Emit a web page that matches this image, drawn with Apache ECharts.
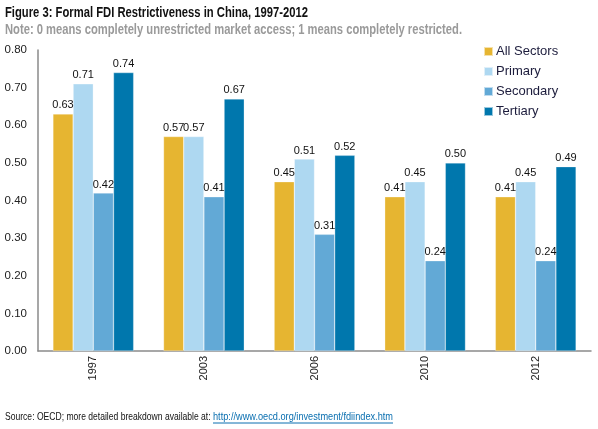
<!DOCTYPE html>
<html><head><meta charset="utf-8">
<script src="https://cdn.jsdelivr.net/npm/echarts@6/dist/echarts.min.js"></script>
<style>html,body{margin:0;padding:0;background:#fff}#c{width:598px;height:429px}</style>
</head><body><div id="c"></div>
<script>
const categories = ['1997', '2003', '2006', '2010', '2012'];
const allSectors = [0.63, 0.57, 0.45, 0.41, 0.41];
const primary = [0.71, 0.57, 0.51, 0.45, 0.45];
const secondary = [0.42, 0.41, 0.31, 0.24, 0.24];
const tertiary = [0.74, 0.67, 0.52, 0.50, 0.49];
const seriesNames = ['All Sectors', 'Primary', 'Secondary', 'Tertiary'];
const colors = ['#E6B531', '#AED8F1', '#62A9D6', '#0077AD'];

const titleText = 'Figure 3: Formal FDI Restrictiveness in China, 1997-2012';
const noteText = 'Note: 0 means completely unrestricted market access; 1 means completely restricted.';
const sourceText = 'Source: OECD; more detailed breakdown available at: ';
const linkText = 'http://www.oecd.org/investment/fdiindex.htm';

const ctx = document.createElement('canvas').getContext('2d');
function condensed(text, font, x, y, targetW, fill) {
  ctx.font = font;
  const w = ctx.measureText(text).width;
  const s = targetW / w;
  return { type: 'text', x: x, y: y, scaleX: s, originX: 0, originY: 0,
    style: { text: text, font: font, fill: fill, textVerticalAlign: 'middle' } };
}
const F = '"Liberation Sans", Arial, sans-serif';

const chart = echarts.init(document.getElementById('c'));
const data = [allSectors, primary, secondary, tertiary];
chart.setOption({
  animation: false,
  backgroundColor: '#fff',
  legend: {
    orient: 'vertical', left: 478, top: 40, itemWidth: 9, itemHeight: 9, itemGap: 7,
    icon: 'rect', data: seriesNames,
    textStyle: { fontFamily: F, fontSize: 13, color: '#1c1c3c', padding: [0, 0, 0, -2] }
  },
  grid: { left: 38, right: 7, top: 50, bottom: 78 },
  xAxis: {
    type: 'category', data: categories,
    axisLine: { lineStyle: { color: '#8a8a8a', width: 1.5 } },
    axisTick: { show: false },
    axisLabel: { rotate: 90, fontFamily: F, fontSize: 11, color: '#222', margin: 5 }
  },
  yAxis: {
    type: 'value', min: 0, max: 0.8, interval: 0.1,
    splitLine: { show: false },
    axisLine: { show: true, lineStyle: { color: '#8a8a8a', width: 1.5 } },
    axisTick: { show: false },
    axisLabel: { formatter: v => v.toFixed(2), fontFamily: F, fontSize: 11.5, color: '#222', margin: 11 }
  },
  series: seriesNames.map((n, i) => ({
    name: n, type: 'bar', data: data[i],
    barGap: '0%', barCategoryGap: '27%',
    itemStyle: { color: colors[i], borderColor: 'rgba(255,255,255,0.6)', borderWidth: 0.5 },
    label: { show: true, position: 'top', distance: 3, formatter: p => p.value.toFixed(2),
      fontFamily: F, fontSize: 11, color: '#111' }
  })),
  graphic: [
    condensed(titleText, 'bold 15px ' + F, 5, 13, 303, '#111'),
    condensed(noteText, 'bold 14px ' + F, 5, 30, 457, '#9a9a9a'),
    condensed(sourceText, '11px ' + F, 5, 417, 208, '#111'),
    condensed(linkText, '11px ' + F, 213, 417, 180, '#0a6fb0'),
    { type: 'line', shape: { x1: 213, y1: 423, x2: 393, y2: 423 }, style: { stroke: '#0a6fb0', lineWidth: 1 } }
  ]
});
</script></body></html>
